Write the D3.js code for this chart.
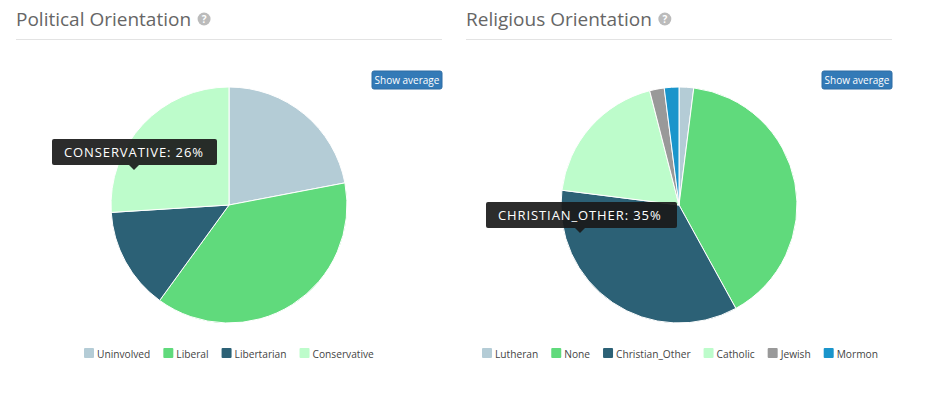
<!DOCTYPE html>
<html><head><meta charset="utf-8">
<script src="https://cdn.jsdelivr.net/npm/d3@7"></script>
<style>
body{margin:0;background:#fff;font-family:"Open Sans",sans-serif;}
</style></head>
<body><svg id="c" width="945" height="399"></svg>
<script>
const politicalLabels = ["Uninvolved","Liberal","Libertarian","Conservative"];
const politicalValues = [22,38,14,26];
const politicalColors = ["#b4ccd6","#60da7c","#2c6176","#bdfccb"];
const religiousLabels = ["Lutheran","None","Christian_Other","Catholic","Jewish","Mormon"];
const religiousValues = [2,40,35,19,2,2];
const religiousColors = ["#b4ccd6","#60da7c","#2c6176","#bdfccb","#999999","#1a95cb"];

const svg = d3.select("#c");

function panel(x0, title, labels, values, colors, legendX, tipIdx, tipBox) {
  const g = svg.append("g");
  const tt0 = g.append("text").attr("x", x0).attr("y", 26).attr("font-size", 19).attr("fill", "#666")
    .attr("font-family", "Open Sans").text(title);
  const helpX = x0 + tt0.node().getComputedTextLength() + 13;
  g.append("circle").attr("cx", helpX).attr("cy", 19).attr("r", 6.5).attr("fill", "#bbb");
  g.append("text").attr("x", helpX).attr("y", 23).attr("text-anchor", "middle").attr("font-size", 10)
    .attr("font-weight", "bold").attr("fill", "#fff").text("?");
  g.append("line").attr("x1", x0).attr("x2", x0 + 426).attr("y1", 39.5).attr("y2", 39.5)
    .attr("stroke", "#e3e3e3").attr("stroke-width", 1);
  // button
  g.append("rect").attr("x", x0 + 356).attr("y", 71).attr("width", 70).attr("height", 18).attr("rx", 2)
    .attr("fill", "#337ab7").attr("stroke", "#2e6da4");
  g.append("text").attr("x", x0 + 391).attr("y", 84).attr("text-anchor", "middle").attr("font-size", 10)
    .attr("fill", "#fff").text("Show average");

  const cx = x0 + 213, cy = 205, r = 118;
  const pie = d3.pie().sort(null).value(d => d)(values);
  const arc = d3.arc().innerRadius(0).outerRadius(r);
  g.append("g").attr("transform", `translate(${cx},${cy})`).selectAll("path").data(pie).join("path")
    .attr("d", arc).attr("fill", (d, i) => colors[i]).attr("stroke", "#fff").attr("stroke-width", 1);

  // legend
  const lg = g.append("g");
  let lx = legendX;
  labels.forEach((l, i) => {
    lg.append("rect").attr("x", lx).attr("y", 348).attr("width", 10).attr("height", 10).attr("rx", 1).attr("fill", colors[i]);
    const t = lg.append("text").attr("x", lx + 13).attr("y", 357.5).attr("font-size", 10.2).attr("fill", "#444").text(l);
    lx += 13 + t.node().getComputedTextLength() + 13;
  });

  // tooltip
  const tg = g.append("g");
  const txt = (labels[tipIdx].toUpperCase()) + ": " + values[tipIdx] + "%";
  tg.append("rect").attr("x", tipBox.x).attr("y", tipBox.y).attr("width", tipBox.w).attr("height", 26)
    .attr("fill", "#1a1a1a").attr("fill-opacity", 0.92).attr("rx", 2);
  tg.append("path").attr("d", `M${tipBox.ax - 5},${tipBox.y + 26} L${tipBox.ax},${tipBox.y + 31} L${tipBox.ax + 5},${tipBox.y + 26} Z`)
    .attr("fill", "#1a1a1a").attr("fill-opacity", 0.92);
  tg.append("text").attr("x", tipBox.x + 12).attr("y", tipBox.y + 18).attr("font-size", 13)
    .attr("letter-spacing", 0.9).attr("fill", "#fff").text(txt);
}

panel(16, "Political Orientation", politicalLabels, politicalValues, politicalColors, 84, 3, {x: 52, y: 139, w: 165, ax: 134});
panel(466, "Religious Orientation", religiousLabels, religiousValues, religiousColors, 482, 2, {x: 486, y: 202, w: 191, ax: 580});
</script></body></html>
